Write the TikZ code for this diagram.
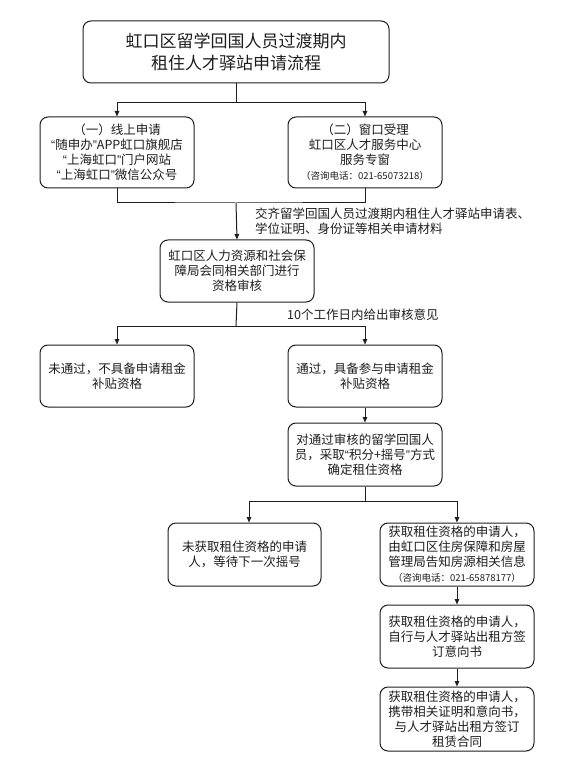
\documentclass[tikz,border=0pt]{standalone}
\usepackage{fontspec}
\setmainfont{Noto Sans CJK SC}
\newfontfamily\latq{Liberation Sans}
\usetikzlibrary{arrows.meta}
\definecolor{ink}{HTML}{1E1E1E}
\tikzset{
  box/.style={draw=ink, line width=1pt, rounded corners=8pt, align=center, text=ink,
    font=\fontsize{12.5}{15}\selectfont, inner sep=1pt, anchor=center},
  conn/.style={draw=ink, line width=1pt},
  arr/.style={conn, -{Triangle[length=5.5pt,width=4.5pt]}},
  lbl/.style={text=ink, font=\fontsize{12.5}{15}\selectfont, align=left, anchor=west, inner sep=0pt}
}
\newcommand{\smalltel}[1]{{\fontsize{9.5}{13}\selectfont #1}}
\newcommand{\myLq}{{\latq “}}
\newcommand{\myRq}{{\latq ”}}
\begin{document}
\begin{tikzpicture}[x=1pt,y=-1pt]
\useasboundingbox[fill=white] (0,0) rectangle (573,775);

\node[box, minimum width=306pt, minimum height=62pt, font=\fontsize{17}{22}\selectfont] (title) at (236,52)
  {虹口区留学回国人员过渡期内\\租住人才驿站申请流程};

\node[box, minimum width=154pt, minimum height=71pt] (online) at (117,152.5)
  {（一）线上申请\\\myLq 随申办\myRq APP虹口旗舰店\\\myLq 上海虹口\myRq 门户网站\\\myLq 上海虹口\myRq 微信公众号};
\node[box, minimum width=154pt, minimum height=71pt] (window) at (365,152.5)
  {（二）窗口受理\\虹口区人才服务中心\\服务专窗\\\smalltel{（咨询电话：021-65073218）}};

\node[box, minimum width=154pt, minimum height=62pt] (review) at (237,271)
  {虹口区人力资源和社会保\\障局会同相关部门进行\\资格审核};

\node[box, minimum width=154pt, minimum height=62pt] (fail) at (117,376)
  {未通过，不具备申请租金\\补贴资格};
\node[box, minimum width=154pt, minimum height=62pt] (pass) at (365,376)
  {通过，具备参与申请租金\\补贴资格};

\node[box, minimum width=154pt, minimum height=63pt] (lottery) at (365,454.5)
  {对通过审核的留学回国人\\员，采取\myLq 积分+摇号\myRq 方式\\确定租住资格};

\node[box, minimum width=153pt, minimum height=63pt] (notobt) at (244.5,554.5)
  {未获取租住资格的申请\\人，等待下一次摇号};
\node[box, minimum width=154pt, minimum height=63pt] (obt) at (457,554.5)
  {获取租住资格的申请人，\\由虹口区住房保障和房屋\\管理局告知房源相关信息\\\smalltel{（咨询电话：021-65878177）}};

\node[box, minimum width=154pt, minimum height=63pt] (sign) at (457,636.5)
  {获取租住资格的申请人，\\自行与人才驿站出租方签\\订意向书};
\node[box, minimum width=154pt, minimum height=64pt] (contract) at (457,719)
  {获取租住资格的申请人，\\携带相关证明和意向书，\\与人才驿站出租方签订\\租赁合同};

\node[lbl] (lab1) at (255,221) {交齐留学回国人员过渡期内租住人才驿站申请表、\\学位证明、身份证等相关申请材料};
\node[lbl] (lab2) at (287,315) {10个工作日内给出审核意见};

% connectors
\coordinate (j1) at (236,103);
\draw[conn] (title.south) -- (j1);
\draw[arr] (j1) -| (online.north);
\draw[arr] (j1) -| (window.north);

\coordinate (j2) at (236,203);
\draw[conn] (online.south) |- (j2) -| (window.south);
\draw[arr] (j2) -- (review.north);

\coordinate (j3) at (236,326);
\draw[conn] (review.south) -- (j3);
\draw[arr] (j3) -| (fail.north);
\draw[arr] (j3) -| (pass.north);

\draw[arr] (pass.south) -- (lottery.north);

\coordinate (j4) at (365,501);
\draw[conn] (lottery.south) -- (j4);
\draw[arr] (j4) -| ([xshift=4.5pt]notobt.north);
\draw[arr] (j4) -| (obt.north);

\draw[arr] (obt.south) -- (sign.north);
\draw[arr] (sign.south) -- (contract.north);
\end{tikzpicture}
\end{document}
